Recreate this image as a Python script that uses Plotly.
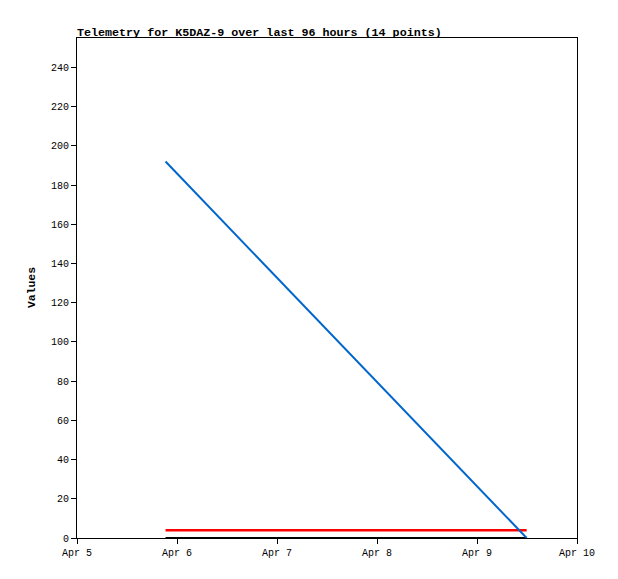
import plotly.graph_objects as go

times = [
    "2024-04-05 21:15", "2024-04-06 03:55", "2024-04-06 10:35", "2024-04-06 17:15",
    "2024-04-06 23:55", "2024-04-07 06:35", "2024-04-07 13:15", "2024-04-07 19:55",
    "2024-04-08 02:35", "2024-04-08 09:15", "2024-04-08 15:55", "2024-04-08 22:35",
    "2024-04-09 05:15", "2024-04-09 11:55",
]
series_black = [0, 0, 0, 0, 0, 0, 0, 0, 0, 0, 0, 0, 0, 0]
series_red = [4, 4, 4, 4, 4, 4, 4, 4, 4, 4, 4, 4, 4, 4]
series_blue = [192.0, 177.2, 162.5, 147.7, 132.9, 118.2, 103.4, 88.6, 73.8, 59.1, 44.3, 29.5, 14.8, 0.0]
y_ticks = [0, 20, 40, 60, 80, 100, 120, 140, 160, 180, 200, 220, 240]
x_ticks = ["2024-04-05", "2024-04-06", "2024-04-07", "2024-04-08", "2024-04-09", "2024-04-10"]
x_tick_labels = ["Apr 5", "Apr 6", "Apr 7", "Apr 8", "Apr 9", "Apr 10"]

mono = "Liberation Mono, DejaVu Sans Mono, monospace"

fig = go.Figure()
fig.add_trace(go.Scatter(x=times, y=series_black, mode="lines",
                         line=dict(color="#000000", width=2), showlegend=False))
fig.add_trace(go.Scatter(x=times, y=series_red, mode="lines",
                         line=dict(color="#ff0000", width=2.5), showlegend=False))
fig.add_trace(go.Scatter(x=times, y=series_blue, mode="lines",
                         line=dict(color="#0066cc", width=2), showlegend=False))

# page body has an 8px margin, so the figure is offset by (8, 8)
fig.update_layout(
    width=610, height=571,
    margin=dict(l=69, r=41, t=30, b=41),
    paper_bgcolor="white", plot_bgcolor="white",
    font=dict(family=mono, size=10, color="black"),
    title=dict(text="<b>Telemetry for K5DAZ-9 over last 96 hours (14 points)</b>",
               x=0, xref="paper", xanchor="left",
               y=1, yref="paper", yanchor="bottom", pad=dict(b=2),
               font=dict(family=mono, size=11.7, color="black")),
    showlegend=False,
)
fig.update_xaxes(
    type="date", range=["2024-04-05", "2024-04-10"],
    tickmode="array", tickvals=x_ticks, ticktext=x_tick_labels,
    showgrid=False, zeroline=False,
    showline=True, linecolor="black", linewidth=1, mirror=True,
    ticks="outside", ticklen=5, tickcolor="black", tickwidth=1,
    tickfont=dict(family=mono, size=10),
)
fig.update_yaxes(
    range=[0, 255], tickmode="array", tickvals=y_ticks,
    showgrid=False, zeroline=False,
    showline=True, linecolor="black", linewidth=1, mirror=True,
    ticks="outside", ticklen=5, tickcolor="black", tickwidth=1,
    tickfont=dict(family=mono, size=10),
)
fig.add_annotation(text="<b>Values</b>", textangle=-90,
                   x=-0.09, xref="paper", xanchor="center",
                   y=0.5, yref="paper", yanchor="middle",
                   showarrow=False, font=dict(family=mono, size=11.4, color="black"))

fig.write_html("out.html")
